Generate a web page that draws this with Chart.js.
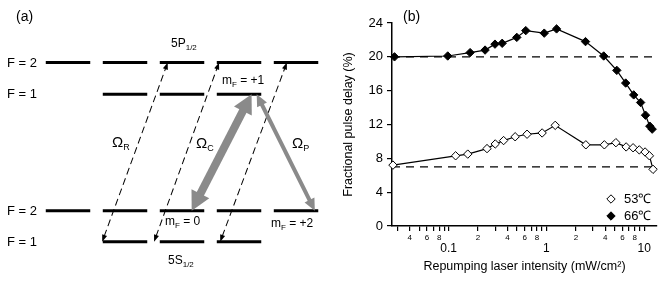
<!DOCTYPE html>
<html>
<head>
<meta charset="utf-8">
<script src="https://cdn.jsdelivr.net/npm/chart.js@4.4.1/dist/chart.umd.min.js"></script>
<style>
  body { margin: 0; background: #fff; }
  #wrap { position: relative; width: 664px; height: 283px; font-family: 'Liberation Sans', Arial, sans-serif; color: #000; }
  .box { position: absolute; top: 0; height: 283px; }
  .lbl { position: absolute; font-size: 13px; line-height: 16px; white-space: nowrap; }
  .lbl sub { font-size: 8px; vertical-align: -3px; line-height: 0; }
  .om { font-size: 15px; }
  .om sub { font-size: 9px; }
</style>
</head>
<body>
<div id="wrap">
  <div class="box" style="left:0;width:330px"><canvas id="levels"></canvas></div>
  <div class="box" style="left:330px;width:334px"><canvas id="delay"></canvas></div>

  <div class="lbl" style="left:16px;top:8px;font-size:14px">(a)</div>
  <div class="lbl" style="left:7px;top:55px">F = 2</div>
  <div class="lbl" style="left:7px;top:86px">F = 1</div>
  <div class="lbl" style="left:7px;top:203px">F = 2</div>
  <div class="lbl" style="left:7px;top:234px">F = 1</div>
  <div class="lbl" style="left:171px;top:35px;font-size:12px">5P<sub>1/2</sub></div>
  <div class="lbl" style="left:168px;top:252px;font-size:12px">5S<sub>1/2</sub></div>
  <div class="lbl" style="left:222px;top:72px;font-size:12px">m<sub>F</sub> = +1</div>
  <div class="lbl" style="left:165px;top:213px;font-size:12px">m<sub>F</sub> = 0</div>
  <div class="lbl" style="left:271px;top:215px;font-size:12px">m<sub>F</sub> = +2</div>
  <div class="lbl om" style="left:112px;top:134px">Ω<sub>R</sub></div>
  <div class="lbl om" style="left:196px;top:135px">Ω<sub>C</sub></div>
  <div class="lbl om" style="left:292px;top:135px">Ω<sub>P</sub></div>
  <div class="lbl" style="left:403px;top:8px;font-size:14px">(b)</div>
</div>
<script>
// ---- panel (b) data ----
var intensity53 = [0.027, 0.118, 0.157, 0.247, 0.30, 0.365, 0.479, 0.634, 0.904, 1.23, 2.53, 3.91, 5.13, 6.53, 7.69, 8.9, 10.2, 11.3, 12.3];
var delay53 = [7.2, 8.3, 8.5, 9.15, 9.7, 10.1, 10.55, 10.85, 11.0, 11.9, 9.6, 9.6, 9.85, 9.35, 9.25, 9.0, 8.75, 8.3, 6.7];
var intensity66 = [0.028, 0.098, 0.166, 0.236, 0.298, 0.353, 0.498, 0.615, 0.95, 1.27, 2.51, 3.85, 5.24, 6.46, 7.8, 9.18, 10.3, 11.4, 12.05];
var delay66 = [20.0, 20.1, 20.5, 20.8, 21.5, 21.6, 22.3, 23.1, 22.8, 23.3, 21.8, 20.1, 18.4, 16.9, 15.5, 14.6, 13.1, 11.8, 11.45];
var seriesLabels = ['53\u2103', '66\u2103'];
var baselines = [20, 7];
var xTickValues = [0.03, 0.04, 0.05, 0.06, 0.07, 0.08, 0.09,
                   0.1, 0.2, 0.3, 0.4, 0.5, 0.6, 0.7, 0.8, 0.9,
                   1, 2, 3, 4, 5, 6, 7, 8, 9, 10];
var xMajor = [0.1, 1, 10];
var xMin = 0.0264, xMax = 13.5;

// ---- panel (a) data: x = m_F, y = energy (arb.) ----
var groundF1 = { mF: [-1, 0, 1], E: 0 };
var groundF2 = { mF: [-2, -1, 0, 1, 2], E: 1 };
var excitedF1 = { mF: [-1, 0, 1], E: 4.76 };
var excitedF2 = { mF: [-2, -1, 0, 1, 2], E: 5.78 };
var repumpArrows = [[-1.40, 0, -0.25, 5.78], [-0.49, 0, 0.65, 5.78], [0.67, 0, 1.84, 5.78]];
var couplingArrow = [0.17, 1, 1.22, 4.76];
var probeArrow = [2.33, 1, 1.31, 4.76];

function pairs(xs, ys) {
    var out = [];
    for (var i = 0; i < xs.length; i++) out.push({ x: xs[i], y: ys[i] });
    return out;
}

function levelPoints(levels) {
    var pts = [];
    levels.forEach(function (lv) {
        lv.mF.forEach(function (m) {
            pts.push({ x: m - 0.39, y: lv.E });
            pts.push({ x: m + 0.39, y: lv.E });
            pts.push({ x: m, y: null });
        });
    });
    return pts;
}

function arrow(ctx, x1, y1, x2, y2, o) {
    var a = Math.atan2(y2 - y1, x2 - x1);
    var len = Math.hypot(x2 - x1, y2 - y1);
    ctx.save();
    ctx.translate(x1, y1);
    ctx.rotate(a);
    ctx.strokeStyle = o.color;
    ctx.fillStyle = o.color;
    ctx.lineWidth = o.width;
    ctx.setLineDash(o.dash || []);
    ctx.beginPath();
    ctx.moveTo(o.head * 0.8, 0);
    ctx.lineTo(len - o.head * 0.8, 0);
    ctx.stroke();
    ctx.setLineDash([]);
    // heads at both ends
    ctx.beginPath();
    ctx.moveTo(0, 0);
    ctx.lineTo(o.head, -o.half);
    ctx.lineTo(o.head, o.half);
    ctx.closePath();
    ctx.fill();
    ctx.beginPath();
    ctx.moveTo(len, 0);
    ctx.lineTo(len - o.head, -o.half);
    ctx.lineTo(len - o.head, o.half);
    ctx.closePath();
    ctx.fill();
    ctx.restore();
}

var arrowPlugin = {
    id: 'arrows',
    afterDatasetsDraw: function (chart) {
        var ctx = chart.ctx, sx = chart.scales.x, sy = chart.scales.y;
        function px(p) {
            return [sx.getPixelForValue(p[0]), sy.getPixelForValue(p[1]), sx.getPixelForValue(p[2]), sy.getPixelForValue(p[3])];
        }
        repumpArrows.forEach(function (r) {
            var p = px(r);
            arrow(ctx, p[0], p[1], p[2], p[3], { color: '#000', width: 1, head: 7, half: 2.6, dash: [7, 4] });
        });
        var c = px(couplingArrow);
        arrow(ctx, c[0], c[1], c[2], c[3], { color: '#8a8a8a', width: 8, head: 19, half: 10 });
        var p = px(probeArrow);
        arrow(ctx, p[0], p[1], p[2], p[3], { color: '#8a8a8a', width: 4, head: 12, half: 5.5 });
    }
};

new Chart(document.getElementById('levels'), {
    type: 'scatter',
    data: {
        datasets: [{
            data: levelPoints([groundF1, groundF2, excitedF1, excitedF2]),
            showLine: true,
            spanGaps: false,
            borderColor: '#000',
            borderWidth: 3,
            pointRadius: 0
        }]
    },
    options: {
        responsive: true,
        maintainAspectRatio: false,
        animation: false,
        layout: { padding: 0 },
        plugins: { legend: { display: false }, tooltip: { enabled: false } },
        scales: {
            x: { type: 'linear', min: -3.193, max: 2.596, display: false },
            y: { type: 'linear', min: -1.332, max: 7.797, display: false }
        }
    },
    plugins: [arrowPlugin]
});

// legend drawn inside the plot, lower right
var legendPlugin = {
    id: 'innerLegend',
    afterDraw: function (chart) {
        var ctx = chart.ctx, area = chart.chartArea;
        ctx.save();
        ctx.font = '13px "Liberation Sans", Arial, sans-serif';
        ctx.textBaseline = 'middle';
        for (var i = 0; i < 2; i++) {
            var ds = chart.data.datasets[i];
            var y = area.bottom - 27 + i * 17;
            ctx.fillStyle = ds.pointBackgroundColor;
            ctx.strokeStyle = '#000';
            ctx.lineWidth = 1;
            Chart.helpers.drawPoint(ctx, {
                pointStyle: 'rectRot', radius: 4.2, borderWidth: 1
            }, area.right - 46, y);
            ctx.fillStyle = '#000';
            ctx.fillText(ds.label, area.right - 33, y);
        }
        ctx.restore();
    }
};

function seriesSet(label, xs, ys, fill) {
    return {
        label: label,
        data: pairs(xs, ys),
        showLine: true,
        borderColor: '#000',
        borderWidth: 1.2,
        pointStyle: 'rectRot',
        pointRadius: 4.2,
        pointBorderWidth: 1,
        pointBorderColor: '#000',
        pointBackgroundColor: fill,
        backgroundColor: fill,
        clip: false,
        order: 1
    };
}

function dashSet(v) {
    return {
        label: 'ref',
        data: [{ x: xMin, y: v }, { x: xMax, y: v }],
        showLine: true,
        borderColor: '#000',
        borderWidth: 1.2,
        borderDash: [8, 6],
        pointRadius: 0,
        order: 2
    };
}

function leadDigit(v) {
    var p = Math.pow(10, Math.floor(Math.log10(v) + 1e-9));
    return Math.round(v / p);
}

new Chart(document.getElementById('delay'), {
    type: 'scatter',
    data: {
        datasets: [
            seriesSet(seriesLabels[0], intensity53, delay53, '#fff'),
            seriesSet(seriesLabels[1], intensity66, delay66, '#000'),
            dashSet(baselines[0]),
            dashSet(baselines[1])
        ]
    },
    options: {
        responsive: true,
        maintainAspectRatio: false,
        animation: false,
        layout: { padding: { top: 23, right: 7, left: 0, bottom: 0 } },
        plugins: { legend: { display: false }, tooltip: { enabled: false } },
        scales: {
            x: {
                type: 'logarithmic',
                min: xMin,
                max: xMax,
                afterBuildTicks: function (s) {
                    s.ticks = xTickValues.map(function (v) { return { value: v }; });
                },
                afterFit: function (s) { s.height = 57; },
                border: { display: true, color: '#000', width: 1.5 },
                grid: { drawOnChartArea: false, drawTicks: true, tickLength: 5, color: '#000', lineWidth: 1.2 },
                ticks: {
                    autoSkip: false,
                    maxRotation: 0,
                    minRotation: 0,
                    padding: 2,
                    color: '#000',
                    font: function (c) {
                        var v = c.tick ? c.tick.value : 1;
                        if (xMajor.indexOf(v) >= 0) return { family: '"Liberation Sans", Arial', size: 12, lineHeight: 0.88 };
                        return { family: '"Liberation Sans", Arial', size: 8, lineHeight: 1.2 };
                    },
                    callback: function (v) {
                        if (xMajor.indexOf(v) >= 0) return ['', String(v)];
                        var d = leadDigit(v);
                        return d % 2 === 0 ? String(d) : '';
                    }
                },
                title: {
                    display: true,
                    text: 'Repumping laser intensity (mW/cm\u00b2)',
                    color: '#000',
                    font: { family: '"Liberation Sans", Arial', size: 12.5 },
                    padding: { top: 0, bottom: 9 }
                }
            },
            y: {
                min: 0,
                max: 24,
                afterFit: function (s) { s.width = 62; },
                border: { display: true, color: '#000', width: 1.5 },
                grid: { drawOnChartArea: false, drawTicks: true, tickLength: 5, color: '#000', lineWidth: 1.2 },
                ticks: {
                    stepSize: 2,
                    padding: 4,
                    color: '#000',
                    font: { family: '"Liberation Sans", Arial', size: 13 },
                    callback: function (v) { return v % 4 === 0 ? v : ''; }
                },
                title: {
                    display: true,
                    text: 'Fractional pulse delay (%)',
                    color: '#000',
                    font: { family: '"Liberation Sans", Arial', size: 12.5 },
                    padding: { top: 11, bottom: 0 }
                }
            }
        }
    },
    plugins: [legendPlugin]
});
</script>
</body>
</html>
